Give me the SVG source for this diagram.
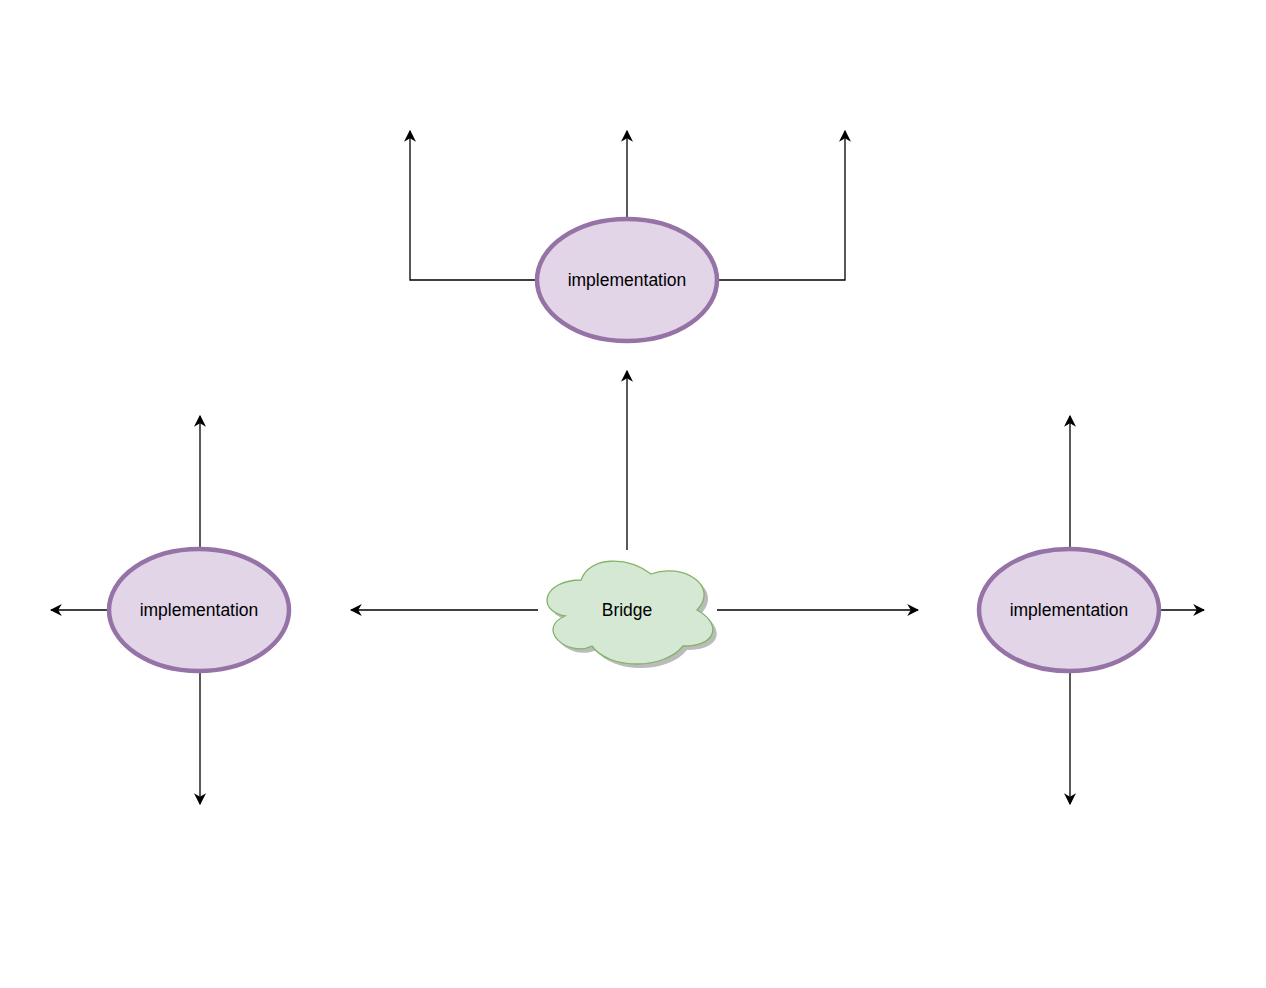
<svg xmlns="http://www.w3.org/2000/svg" width="1266" height="988" viewBox="0 0 1266 988">
<style>
.e{fill:#e1d5e7;stroke:#9673a6;stroke-width:4.5}
.t{font-family:"Liberation Sans",Arial,sans-serif;font-size:17.5px;text-anchor:middle;fill:#000}
.c path{fill:none;stroke:#000;stroke-width:1.3;marker-end:url(#a)}
</style>
<defs>
<marker id="a" viewBox="0 0 10 10" refX="9" refY="5" markerWidth="12" markerHeight="12" markerUnits="userSpaceOnUse" orient="auto"><path d="M0,0 L10,5 L0,10 L3,5 Z" fill="#000"/></marker>
</defs>
<rect width="1266" height="988" fill="#fff"/>
<g class="c">
<path d="M627,218 V131"/>
<path d="M535,280 H410 V131"/>
<path d="M718,280 H845 V131"/>
<path d="M627,550 V371"/>
<path d="M538,610 H351"/>
<path d="M717,610 H918"/>
<path d="M200,548 V416"/>
<path d="M107,610 H51"/>
<path d="M200,672 V804"/>
<path d="M1070,548 V416"/>
<path d="M1161,610 H1204"/>
<path d="M1070,672 V804"/>
</g>
<g id="top"><ellipse class="e" cx="627" cy="280" rx="90" ry="61"/><text class="t" x="627" y="286">implementation</text></g>
<g id="left"><ellipse class="e" cx="199" cy="610" rx="90" ry="61"/><text class="t" x="199" y="616">implementation</text></g>
<g id="right"><ellipse class="e" cx="1069" cy="610" rx="90" ry="61"/><text class="t" x="1069" y="616">implementation</text></g>
<g id="bridge">
<path transform="translate(4,4)" fill="#bbb" d="M581,580 C544,580 535,610 565,616 C535,629 568,658 592,646 C609,670 664,670 683,646 C720,646 720,622 697,610 C720,586 683,562 651,574 C627,556 590,556 581,580 Z"/>
<path fill="#d5e8d4" stroke="#82b366" stroke-width="1.3" d="M581,580 C544,580 535,610 565,616 C535,629 568,658 592,646 C609,670 664,670 683,646 C720,646 720,622 697,610 C720,586 683,562 651,574 C627,556 590,556 581,580 Z"/>
<text class="t" x="627" y="616">Bridge</text>
</g>
</svg>
